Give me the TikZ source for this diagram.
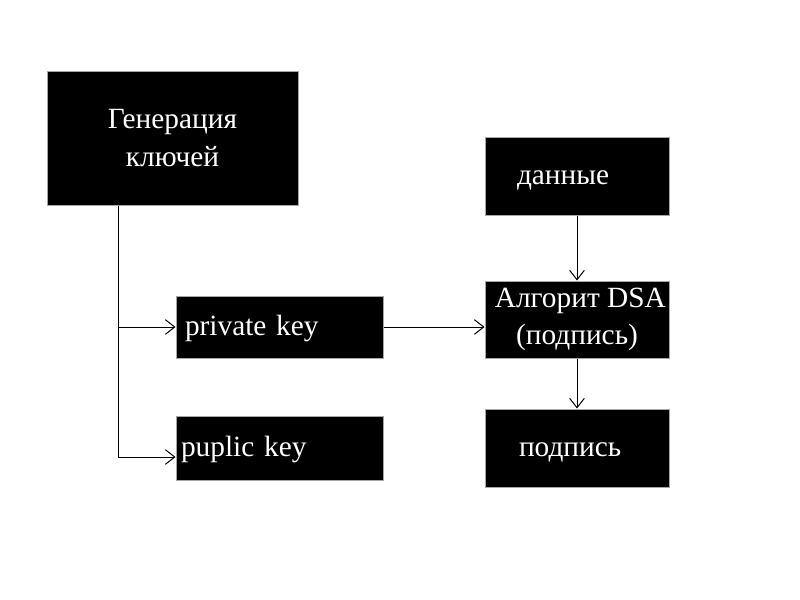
\documentclass[tikz,border=0pt]{standalone}
\usepackage{fontspec}
\setmainfont{Liberation Serif}
\usetikzlibrary{arrows.meta,positioning}

\tikzset{
    box/.style={rectangle, draw=gray!70, fill=black, text=white, line width=0.75pt,
        font=\fontsize{22}{28}\selectfont},
    oneline/.style={text height=16pt, text depth=3pt, align=left},
    arrow/.style={-{Straight Barb[length=7pt,width=11pt]}, line width=0.75pt}
}

\begin{document}
\begin{tikzpicture}[x=0.75pt, y=-0.75pt]
    \useasboundingbox (0,0) rectangle (800,600);

    \node[box, minimum width=188.25pt, minimum height=100.5pt, align=center] (gen) at (172.5,138) {Генерация\\ключей};
    \node[box, oneline, minimum height=46.5pt, text width=141.75pt, inner xsep=6.75pt] (priv) at (279.5,327) {private key};
    \node[box, oneline, minimum height=48pt, text width=147.75pt, inner xsep=3.75pt] (pub) at (279.5,448) {puplic key};
    \node[box, oneline, minimum height=58.5pt, text width=90pt, inner xsep=24pt] (data) at (577,176) {данные};
    \node[box, minimum width=138pt, minimum height=57.75pt, inner xsep=0pt, align=center] (dsa) at (577,319.5) {\hspace{5pt}Алгорит DSA\\(подпись)};
    \node[box, oneline, minimum height=58.5pt, text width=87pt, inner xsep=25.5pt] (sign) at (577,448) {подпись};

    % key branches
    \coordinate (split) at (118,327);
    \coordinate (corner) at (118,457);
    \draw[line width=0.75pt] (gen.south -| split) -- (corner);
    \draw[arrow] (split) -- (priv.west |- split);
    \draw[arrow] (corner) -- (pub.west |- corner);

    \draw[arrow] (priv.east) -- (dsa.west |- priv.east);
    \draw[arrow] (data.south) -- (dsa.north);
    \draw[arrow] (dsa.south) -- (sign.north);
\end{tikzpicture}
\end{document}
